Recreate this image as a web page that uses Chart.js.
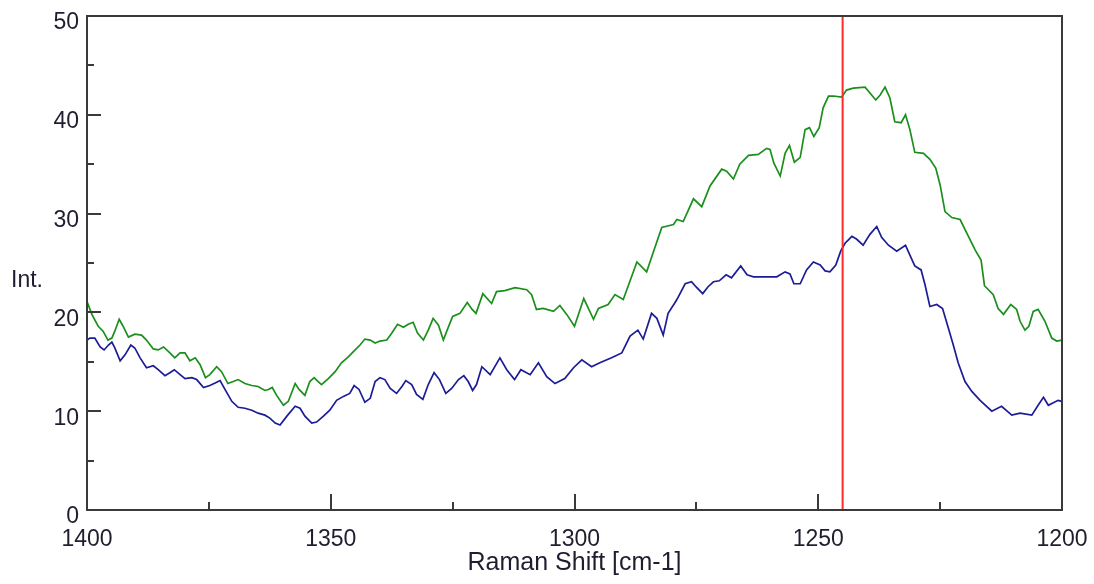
<!DOCTYPE html>
<html>
<head>
<meta charset="utf-8">
<script src="https://cdn.jsdelivr.net/npm/chart.js@4.4.1/dist/chart.umd.min.js"></script>
<style>
  html, body { margin: 0; padding: 0; background: #ffffff; }
  #wrap { width: 1094px; height: 584px; position: relative; }
</style>
</head>
<body>
<div id="wrap"><canvas id="c" width="1094" height="584"></canvas></div>
<script>
// ---- data ----
const greenShift = [1400.0,1399.0,1397.7,1396.7,1395.7,1394.9,1394.3,1393.4,1392.6,1391.5,
  1390.2,1388.8,1387.8,1386.4,1385.4,1384.3,1383.0,1382.0,1380.9,1379.9,
  1378.9,1377.8,1376.8,1375.7,1374.8,1373.4,1372.4,1371.1,1370.0,1369.0,
  1367.6,1366.2,1364.9,1363.5,1362.8,1362.0,1361.1,1359.7,1358.7,1357.3,
  1356.5,1355.3,1354.3,1353.4,1352.8,1351.9,1350.5,1349.1,1347.8,1346.4,
  1345.4,1344.0,1343.0,1341.9,1340.9,1339.9,1338.5,1337.5,1336.3,1335.1,
  1334.1,1333.1,1332.2,1331.0,1330.0,1329.0,1327.9,1326.9,1326.2,1325.0,
  1323.5,1322.0,1321.0,1320.2,1318.8,1317.0,1316.0,1314.3,1312.2,1309.8,
  1308.8,1307.8,1306.4,1304.3,1303.0,1301.6,1300.0,1298.1,1296.1,1295.1,
  1293.1,1291.7,1290.0,1287.2,1285.2,1283.7,1282.1,1279.7,1279.0,1277.7,
  1275.6,1273.9,1272.2,1269.8,1268.8,1267.4,1266.1,1264.3,1262.3,1260.6,
  1259.9,1259.1,1257.8,1256.8,1255.9,1254.9,1253.7,1252.7,1251.8,1250.9,
  1249.8,1249.0,1247.9,1246.9,1245.2,1244.2,1242.8,1240.4,1239.4,1238.2,
  1237.3,1236.3,1235.3,1234.3,1233.0,1232.1,1231.2,1230.2,1228.4,1227.1,
  1225.9,1225.0,1224.0,1222.6,1220.9,1219.5,1217.8,1216.6,1215.9,1214.1,
  1213.1,1212.0,1210.5,1209.3,1208.6,1207.6,1206.8,1205.9,1204.9,1203.5,
  1202.1,1201.1,1200.0];
const greenIntensity = [21.1,19.8,18.6,18.1,17.2,17.4,18.1,19.3,18.6,17.5,
  17.8,17.7,17.2,16.3,16.2,16.5,15.9,15.4,15.9,15.9,
  15.1,15.4,14.7,13.4,13.7,14.5,14.0,12.8,13.0,13.2,
  12.8,12.6,12.5,12.1,12.2,12.4,11.6,10.6,11.0,12.8,
  12.2,11.6,13.0,13.4,13.1,12.7,13.3,14.0,14.9,15.5,
  16.0,16.7,17.3,17.2,16.9,17.1,17.2,17.9,18.8,18.5,
  18.8,19.0,17.9,17.2,18.2,19.4,18.7,17.2,18.1,19.6,
  19.9,21.0,20.3,19.9,21.9,20.9,22.1,22.2,22.5,22.3,
  21.8,20.3,20.4,20.1,20.7,19.8,18.6,21.4,19.3,20.4,
  20.8,21.8,21.3,25.1,24.1,26.3,28.6,28.9,29.4,29.2,
  31.5,30.7,32.8,34.5,34.3,33.5,35.0,35.9,36.0,36.6,
  36.5,35.1,33.8,36.1,36.9,35.2,35.7,38.5,38.7,37.8,
  38.7,40.7,41.9,41.9,41.8,42.5,42.7,42.8,42.2,41.5,
  42.0,42.8,41.7,39.3,39.2,40.0,38.5,36.2,36.1,35.5,
  34.6,32.9,30.2,29.6,29.4,28.0,26.3,25.3,22.7,21.8,
  20.4,19.8,20.8,20.3,19.1,18.2,18.6,20.1,20.3,19.1,
  17.4,17.1,17.2];

const blueShift = [1400.0,1399.4,1398.4,1397.3,1396.5,1395.6,1394.9,1394.3,1393.2,1392.2,
  1391.0,1390.2,1389.1,1387.8,1386.4,1385.4,1384.0,1383.0,1382.1,1380.9,
  1379.9,1378.5,1377.5,1376.1,1374.8,1373.5,1372.7,1371.7,1370.3,1369.0,
  1367.6,1366.2,1364.9,1363.5,1362.5,1361.4,1360.4,1359.0,1357.3,1356.3,
  1355.3,1353.9,1352.9,1351.5,1350.2,1348.8,1347.4,1346.1,1345.2,1344.2,
  1343.0,1341.9,1340.9,1339.9,1338.9,1337.8,1336.5,1335.4,1334.6,1333.4,
  1332.4,1331.1,1330.0,1328.8,1327.7,1326.4,1325.2,1323.8,1322.7,1321.8,
  1320.9,1320.1,1319.0,1317.3,1315.3,1313.9,1312.3,1311.0,1309.1,1307.4,
  1305.7,1304.0,1302.0,1300.2,1298.5,1296.5,1294.8,1292.4,1290.3,1288.6,
  1287.0,1285.9,1284.2,1283.1,1281.8,1280.8,1279.5,1279.0,1277.3,1276.0,
  1275.1,1273.7,1272.6,1271.5,1270.3,1268.9,1267.8,1265.9,1264.6,1263.3,
  1261.3,1258.5,1256.8,1255.8,1255.0,1253.7,1252.4,1251.0,1249.6,1248.6,
  1247.6,1246.4,1245.4,1244.5,1243.1,1242.1,1240.8,1239.4,1238.0,1237.0,
  1235.6,1233.9,1232.1,1231.2,1230.2,1228.9,1228.1,1227.1,1225.7,1224.5,
  1223.3,1222.3,1221.3,1219.9,1218.5,1216.8,1214.4,1212.4,1210.3,1208.6,
  1206.2,1204.9,1203.8,1202.8,1200.8,1200.0];
const blueIntensity = [17.2,17.4,17.4,16.5,16.2,16.7,17.0,16.4,15.1,15.7,
  16.7,16.4,15.4,14.4,14.6,14.2,13.6,13.9,14.2,13.7,
  13.3,13.4,13.2,12.4,12.6,12.9,13.1,12.2,11.0,10.4,
  10.3,10.1,9.8,9.6,9.3,8.8,8.6,9.5,10.5,10.3,
  9.5,8.8,8.9,9.5,10.1,11.1,11.5,11.8,12.6,12.2,
  10.9,11.3,13.0,13.4,13.2,12.3,11.8,12.5,13.1,12.7,
  11.7,11.2,12.7,13.9,13.2,11.8,12.3,13.2,13.6,13.0,
  12.1,12.7,14.5,13.7,15.4,14.2,13.2,14.2,13.7,14.9,
  13.5,12.8,13.3,14.4,15.2,14.5,14.9,15.4,15.9,17.6,
  18.2,17.3,19.9,19.4,17.7,19.9,20.9,21.3,22.9,23.1,
  22.6,21.9,22.6,23.1,23.2,23.8,23.5,24.7,23.8,23.6,
  23.6,23.6,24.1,23.9,22.9,22.9,24.3,25.1,24.8,24.2,
  24.1,24.8,26.2,27.0,27.7,27.4,26.8,27.9,28.7,27.6,
  26.8,26.2,26.8,25.8,24.7,24.3,22.8,20.6,20.8,20.4,
  18.4,16.7,14.9,13.0,12.0,11.1,10.0,10.5,9.6,9.8,
  9.6,10.6,11.4,10.6,11.1,11.0];

const cursorShift = 1245;
const xTickLabels = [1400, 1350, 1300, 1250, 1200];
const xMajorTicks = [1350, 1300, 1250];
const xMinorTicks = [1375, 1325, 1275, 1225];
const yMajorTicks = [10, 20, 30, 40];
const yMinorTicks = [5, 15, 25, 35, 45];
const xTitle = 'Raman Shift [cm-1]';
const yTitle = 'Int.';

// ---- build ----
function pairs(xs, ys) {
  const n = Math.min(xs.length, ys.length);
  const out = [];
  for (let i = 0; i < n; i++) out.push({ x: xs[i], y: ys[i] });
  return out;
}

const FONT = '"Liberation Sans", Arial, sans-serif';
const TEXT = '#1e1e30';

const framePlugin = {
  id: 'frame',
  afterDraw(chart) {
    const { ctx, chartArea: a, scales: { x, y } } = chart;
    ctx.save();
    ctx.strokeStyle = '#3a3a3a';
    ctx.lineWidth = 2;
    ctx.beginPath();
    ctx.rect(a.left, a.top, a.right - a.left, a.bottom - a.top);
    xMajorTicks.forEach(v => { const p = Math.round(x.getPixelForValue(v)); ctx.moveTo(p, a.bottom); ctx.lineTo(p, a.bottom - 16); });
    xMinorTicks.forEach(v => { const p = Math.round(x.getPixelForValue(v)); ctx.moveTo(p, a.bottom); ctx.lineTo(p, a.bottom - 8); });
    yMajorTicks.forEach(v => { const p = Math.round(y.getPixelForValue(v)); ctx.moveTo(a.left, p); ctx.lineTo(a.left + 14, p); });
    yMinorTicks.forEach(v => { const p = Math.round(y.getPixelForValue(v)); ctx.moveTo(a.left, p); ctx.lineTo(a.left + 7, p); });
    ctx.stroke();
    ctx.fillStyle = TEXT;
    ctx.font = '23px ' + FONT;
    ctx.textAlign = 'left';
    ctx.textBaseline = 'alphabetic';
    ctx.fillText(yTitle, 11, 287);
    ctx.restore();
  }
};

new Chart(document.getElementById('c'), {
  type: 'line',
  data: {
    datasets: [
      { label: 'cursor', data: [{ x: cursorShift, y: 0 }, { x: cursorShift, y: 50 }],
        borderColor: '#ff2a2a', borderWidth: 2, pointRadius: 0, tension: 0 },
      { label: 'green', data: pairs(greenShift, greenIntensity),
        borderColor: '#1b8f1b', borderWidth: 1.7, pointRadius: 0, tension: 0 },
      { label: 'blue', data: pairs(blueShift, blueIntensity),
        borderColor: '#1c1c96', borderWidth: 1.7, pointRadius: 0, tension: 0 }
    ]
  },
  options: {
    responsive: false,
    animation: false,
    devicePixelRatio: 1,
    layout: { padding: { left: 0, right: 32, top: 16, bottom: 0 } },
    plugins: { legend: { display: false }, tooltip: { enabled: false } },
    scales: {
      x: {
        type: 'linear', reverse: true, min: 1200, max: 1400,
        afterFit(s) { s.height = 74; s.paddingLeft = 0; s.paddingRight = 0; },
        afterBuildTicks(s) { s.ticks = xTickLabels.map(v => ({ value: v })); },
        grid: { display: false, drawTicks: false },
        border: { display: false },
        ticks: { color: TEXT, font: { family: FONT, size: 23 }, padding: 16, maxRotation: 0, autoSkip: false,
                 callback: v => String(v) },
        title: { display: true, text: xTitle, color: TEXT, font: { family: FONT, size: 25 }, padding: { top: 0, bottom: 6 } }
      },
      y: {
        type: 'linear', min: 0, max: 50,
        afterFit(s) { s.width = 87; s.paddingTop = 0; s.paddingBottom = 0; },
        grid: { display: false, drawTicks: false },
        border: { display: false },
        ticks: { stepSize: 10, color: TEXT, font: { family: FONT, size: 23 }, padding: 8, labelOffset: 7,
                 callback: v => String(v) }
      }
    }
  },
  plugins: [framePlugin]
});
</script>
</body>
</html>
